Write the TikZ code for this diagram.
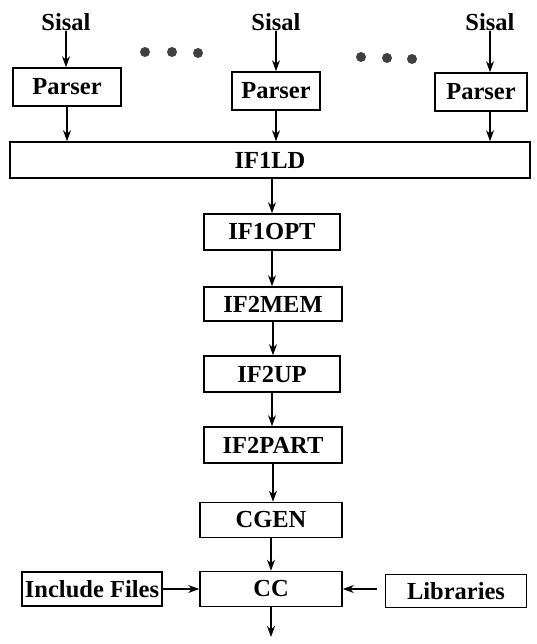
\documentclass[tikz,border=0pt]{standalone}
\usepackage{fontspec}
\setmainfont{Liberation Serif}
\usetikzlibrary{arrows.meta}
\begin{document}
\begin{tikzpicture}[x=1pt,y=-1pt,
  every node/.style={font=\bfseries\fontsize{24.5}{28}\selectfont, inner sep=0pt},
  box/.style={draw, line width=1.6pt, minimum height=36pt},
  lbl/.style={},
  flow/.style={line width=1.3pt, -{Stealth[length=11pt,width=8pt]}},
  dot/.style={fill=black!75, circle, minimum size=10pt}
]
\useasboundingbox (0,0) rectangle (536,644);

% source files
\node[lbl] (s1) at (66,22) {Sisal};
\node[lbl] (s2) at (276,22) {Sisal};
\node[lbl] (s3) at (490,22) {Sisal};

% parsers
\node[box, minimum width=108pt, minimum height=38pt] (p1) at (67,87) {Parser};
\node[box, minimum width=88pt, minimum height=38pt] (p2) at (276,91) {Parser};
\node[box, minimum width=92pt, minimum height=38pt] (p3) at (481,92) {Parser};

% ellipsis dots
\node[dot] (d1) at (145,52) {};
\node[dot] (d2) at (172,52) {};
\node[dot] (d3) at (198,53) {};
\node[dot] (d4) at (361,57) {};
\node[dot] (d5) at (387,58) {};
\node[dot] (d6) at (412,59) {};

% loader
\node[box, minimum width=520pt] (ld) at (270,160) {IF1LD};

% optimisation and code generation chain
\node[box, minimum width=136pt] (opt)  at (272,232) {IF1OPT};
\node[box, minimum width=138pt, minimum height=34pt] (mem)  at (273,304) {IF2MEM};
\node[box, minimum width=136pt] (up)   at (272,374) {IF2UP};
\node[box, minimum width=138pt] (part) at (273,445) {IF2PART};
\node[box, minimum width=142pt, minimum height=35pt] (cgen) at (271,520) {CGEN};
\node[box, minimum width=142pt, minimum height=35pt] (cc)   at (271,589) {CC};
\node[box, minimum width=140pt, minimum height=34pt] (inc)  at (92,589) {Include Files};
\node[box, minimum width=141pt, minimum height=33pt] (lib)  at (456,591) {Libraries};
\coordinate (out) at (271,637);

% connectors
\draw[flow] (s1.south) -- (s1.south |- p1.north);
\draw[flow] (s2.south) -- (s2.south |- p2.north);
\draw[flow] (s3.south) -- (s3.south |- p3.north);
\draw[flow] (p1.south) -- (p1.south |- ld.north);
\draw[flow] (p2.south) -- (p2.south |- ld.north);
\draw[flow] (s3.south |- p3.south) -- (s3.south |- ld.north);
\draw[flow] (opt.north |- ld.south) -- (opt.north);
\draw[flow] (opt.south) -- (opt.south |- mem.north);
\draw[flow] (mem.south) -- (mem.south |- up.north);
\draw[flow] (up.south) -- (up.south |- part.north);
\draw[flow] (part.south) -- (part.south |- cgen.north);
\draw[flow] (cgen.south) -- (cgen.south |- cc.north);
\draw[flow] (inc.east) -- (cc.west);
\draw[flow, shorten <=8pt] (lib.west |- cc.east) -- (cc.east);
\draw[flow] (cc.south) -- (out);
\end{tikzpicture}
\end{document}
